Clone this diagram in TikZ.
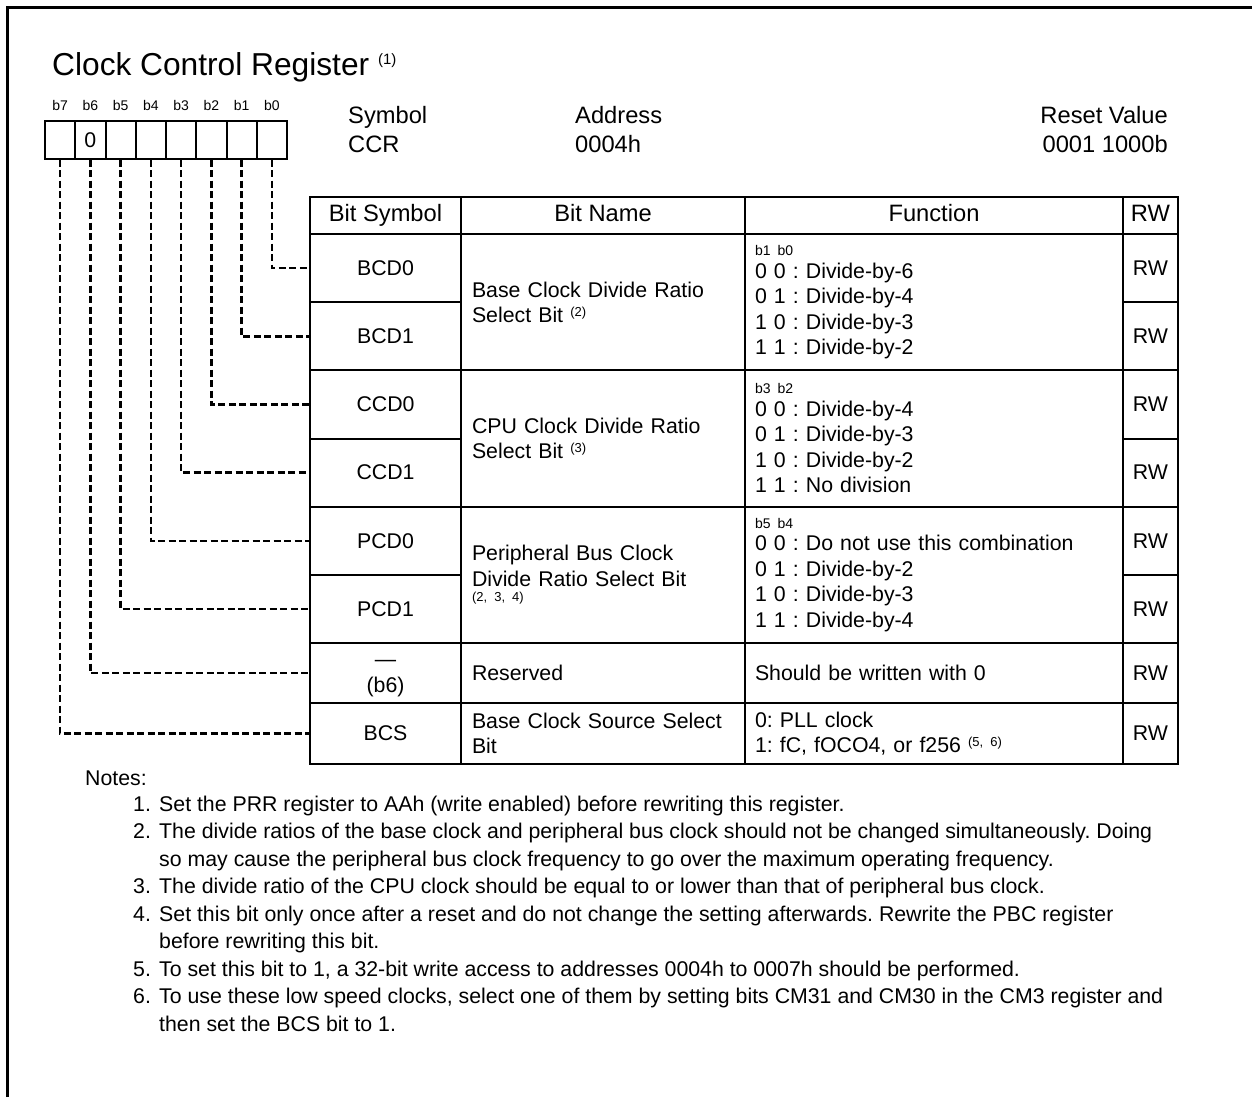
\documentclass[tikz,border=0pt]{standalone}
\usepackage{fontspec}
\setmainfont{Liberation Sans}
\usetikzlibrary{positioning}

\newcommand{\regtitlefont}{\fontsize{31.7}{36}\selectfont}
\newcommand{\tophdfont}{\fontsize{23.7}{29}\selectfont}
\newcommand{\cellfont}{\fontsize{21.3}{25.5}\selectfont}
\newcommand{\bitfont}{\fontsize{14}{16}\selectfont}
\newcommand{\notesfont}{\fontsize{21.3}{26}\selectfont}
\newcommand{\noteref}[1]{\raisebox{6.5pt}{\fontsize{13}{13}\selectfont(#1)}}
\frenchspacing

\begin{document}
\begin{tikzpicture}[x=1pt, y=-1pt,
    frame/.style={line width=3pt},
    bitcell/.style={draw, line width=2pt, minimum width=30.25pt, minimum height=37pt, inner sep=0pt, font=\cellfont},
    bitlbl/.style={font=\bitfont, inner sep=0pt},
    cell/.style={draw, line width=2pt, inner sep=0pt, font=\cellfont},
    hdcell/.style={cell, minimum height=37pt, text height=17pt, text depth=5pt, font=\tophdfont},
    symcell/.style={cell, minimum width=151pt, align=center},
    namecell/.style={cell, text width=262pt, inner xsep=11pt, align=left},
    funccell/.style={cell, text width=358pt, inner xsep=10pt, align=left},
    rwcell/.style={cell, minimum width=55pt},
    leader/.style={line width=2.5pt, dash pattern=on 7pt off 3.5pt},
    notetxt/.style={font=\notesfont, anchor=base west, inner sep=0pt}
]
    \useasboundingbox (0,0) rectangle (1252,1097);

    % Frame
    \draw[frame] (7,1097) -- (7,7.5) -- (1252,7.5);

    % Title and register info
    \node[anchor=base west, inner sep=0pt, font=\regtitlefont] (title) at (52,75.5)
        {Clock Control Register \raisebox{11pt}{\fontsize{15}{15}\selectfont(1)}};
    \node[anchor=west, align=left, inner sep=0pt, font=\tophdfont] (sym) at (348,129.5) {Symbol\\CCR};
    \node[anchor=west, align=left, inner sep=0pt, font=\tophdfont] (addr) at (575,129.5) {Address\\0004h};
    \node[anchor=east, align=right, inner sep=0pt, font=\tophdfont] (reset) at (1168,129.5) {Reset Value\\0001 1000b};

    % Register bits
    \foreach \i/\v in {7/{},6/0,5/{},4/{},3/{},2/{},1/{},0/{}}
        \node[bitcell] (r\i) at ({287-15.125-30.25*\i},140) {\v};
    \foreach \i in {0,...,7}
        \node[bitlbl, above=10pt of r\i] (l\i) {b\i};

    % Table header
    \node[hdcell, minimum width=151pt] (hsym) at (385.5,215.5) {Bit Symbol};
    \node[hdcell, minimum width=284pt] (hname) at (603,215.5) {Bit Name};
    \node[hdcell, minimum width=378pt] (hfunc) at (934,215.5) {Function};
    \node[hdcell, minimum width=55pt] (hrw) at (1150.5,215.5) {RW};

    % Bit symbols and RW
    \foreach \i/\y/\h/\t in {0/268.1/68.2/BCD0, 1/336.25/68.2/BCD1, 2/404.4/68.2/CCD0,
            3/472.6/68.2/CCD1, 4/540.75/68.2/PCD0, 5/608.9/68.2/PCD1,
            6/673/60/{\strut\textemdash\\(b6)}, 7/733.5/61/BCS} {
        \node[symcell, minimum height=\h pt] (s\i) at (385.5,\y) {\t};
        \node[rwcell, minimum height=\h pt] (w\i) at (1150.5,\y) {RW};
    }

    % Bit names
    \node[namecell, minimum height=136.3pt] (nbcd) at (603,302.15) {Base Clock Divide Ratio\\Select Bit \noteref{2}};
    \node[namecell, minimum height=136.4pt] (nccd) at (603,438.5) {CPU Clock Divide Ratio\\Select Bit \noteref{3}};
    \node[namecell, minimum height=136.3pt] (npcd) at (603,574.85) {Peripheral Bus Clock\\Divide Ratio Select Bit\\[-10pt]{\fontsize{13}{13}\selectfont(2, 3, 4)}};
    \node[namecell, minimum height=60pt] (nres) at (603,673) {Reserved};
    \node[namecell, minimum height=61pt] (nbcs) at (603,733.5) {Base Clock Source Select\\Bit};

    % Functions
    \node[funccell, minimum height=136.3pt] (fbcd) at (934,302.15)
        {{\bitfont b1 b0}\\[-3pt]0 0 : Divide-by-6\\0 1 : Divide-by-4\\1 0 : Divide-by-3\\1 1 : Divide-by-2};
    \node[funccell, minimum height=136.4pt] (fccd) at (934,438.5)
        {{\bitfont b3 b2}\\[-3pt]0 0 : Divide-by-4\\0 1 : Divide-by-3\\1 0 : Divide-by-2\\1 1 : No division};
    \node[funccell, minimum height=136.3pt] (fpcd) at (934,574.85)
        {{\bitfont b5 b4}\\[-3pt]0 0 : Do not use this combination\\0 1 : Divide-by-2\\1 0 : Divide-by-3\\1 1 : Divide-by-4};
    \node[funccell, minimum height=60pt] (fres) at (934,673) {Should be written with 0};
    \node[funccell, minimum height=61pt] (fbcs) at (934,733.5) {0: PLL clock\\1: fC, fOCO4, or f256 \noteref{5, 6}};

    % Leaders from bits to symbols
    \foreach \i in {0,...,7}
        \draw[leader] (r\i.south) |- (s\i.west);

    % Notes
    \node[notetxt] (notes) at (85,785.3) {Notes:};
    \node[notetxt] (k1) at (133,811.3) {1.};
    \node[notetxt] (t1) at (159,811.3) {Set the PRR register to AAh (write enabled) before rewriting this register.};
    \node[notetxt] (k2) at (133,838.8) {2.};
    \node[notetxt] (t2a) at (159,838.8) {The divide ratios of the base clock and peripheral bus clock should not be changed simultaneously. Doing};
    \node[notetxt] (t2b) at (159,866.3) {so may cause the peripheral bus clock frequency to go over the maximum operating frequency.};
    \node[notetxt] (k3) at (133,893.8) {3.};
    \node[notetxt] (t3) at (159,893.8) {The divide ratio of the CPU clock should be equal to or lower than that of peripheral bus clock.};
    \node[notetxt] (k4) at (133,921.3) {4.};
    \node[notetxt] (t4a) at (159,921.3) {Set this bit only once after a reset and do not change the setting afterwards. Rewrite the PBC register};
    \node[notetxt] (t4b) at (159,948.8) {before rewriting this bit.};
    \node[notetxt] (k5) at (133,976.3) {5.};
    \node[notetxt] (t5) at (159,976.3) {To set this bit to 1, a 32-bit write access to addresses 0004h to 0007h should be performed.};
    \node[notetxt] (k6) at (133,1003.8) {6.};
    \node[notetxt] (t6a) at (159,1003.8) {To use these low speed clocks, select one of them by setting bits CM31 and CM30 in the CM3 register and};
    \node[notetxt] (t6b) at (159,1031.3) {then set the BCS bit to 1.};
\end{tikzpicture}
\end{document}
